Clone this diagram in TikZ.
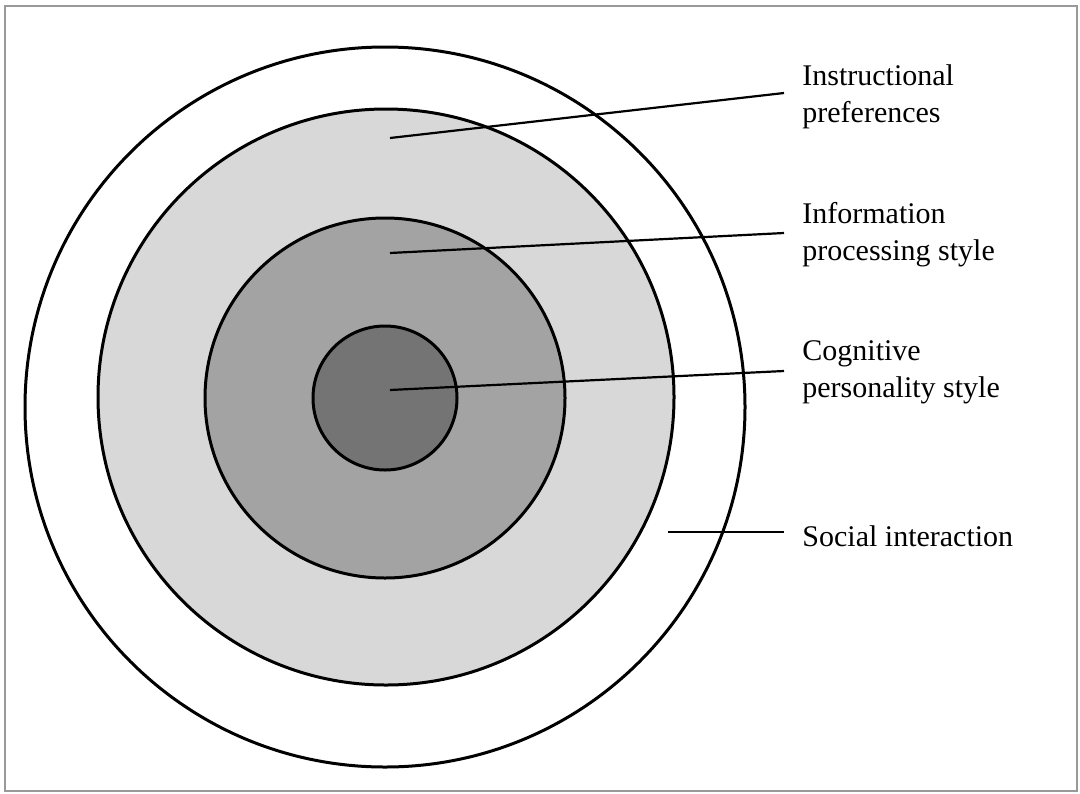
\documentclass[tikz,border=0pt]{standalone}
\usepackage{fontspec}
\setmainfont{Liberation Serif}
\definecolor{ringA}{HTML}{D8D8D8}
\definecolor{ringB}{HTML}{A3A3A3}
\definecolor{ringC}{HTML}{747474}
\begin{document}
\begin{tikzpicture}[x=0.5pt,y=-0.5pt,
  ring/.style={draw=black,line width=1.5pt},
  conn/.style={draw=black,line width=1.1pt},
  lbl/.style={anchor=north west,inner sep=0pt,align=left,font=\fontsize{15}{18.5}\selectfont}]
\useasboundingbox (0,0) rectangle (1080,793);
\draw[gray!80,line width=0.6pt] (5,6) rectangle (1077,791);
\path[ring,fill=white] (385,407) circle[radius=180pt];
\path[ring,fill=ringA] (386,397) circle[radius=144pt];
\path[ring,fill=ringB] (385,398) circle[radius=90pt];
\path[ring,fill=ringC] (385,398) circle[radius=36pt];
\coordinate (p1) at (390,138);
\coordinate (p2) at (390,253);
\coordinate (p3) at (390,390);
\coordinate (p4) at (668,532);
\coordinate (e1) at (784,93);
\coordinate (e2) at (784,233);
\coordinate (e3) at (784,371);
\coordinate (e4) at (784,532);
\node[lbl] (l1) at (802,64) {Instructional\\preferences};
\node[lbl] (l2) at (802,202) {Information\\processing style};
\node[lbl] (l3) at (802,340) {Cognitive\\personality style};
\node[lbl,anchor=west] (l4) at (802,536) {Social interaction};
\draw[conn] (p1) -- (e1);
\draw[conn] (p2) -- (e2);
\draw[conn] (p3) -- (e3);
\draw[conn] (p4) -- (e4);
\end{tikzpicture}
\end{document}
